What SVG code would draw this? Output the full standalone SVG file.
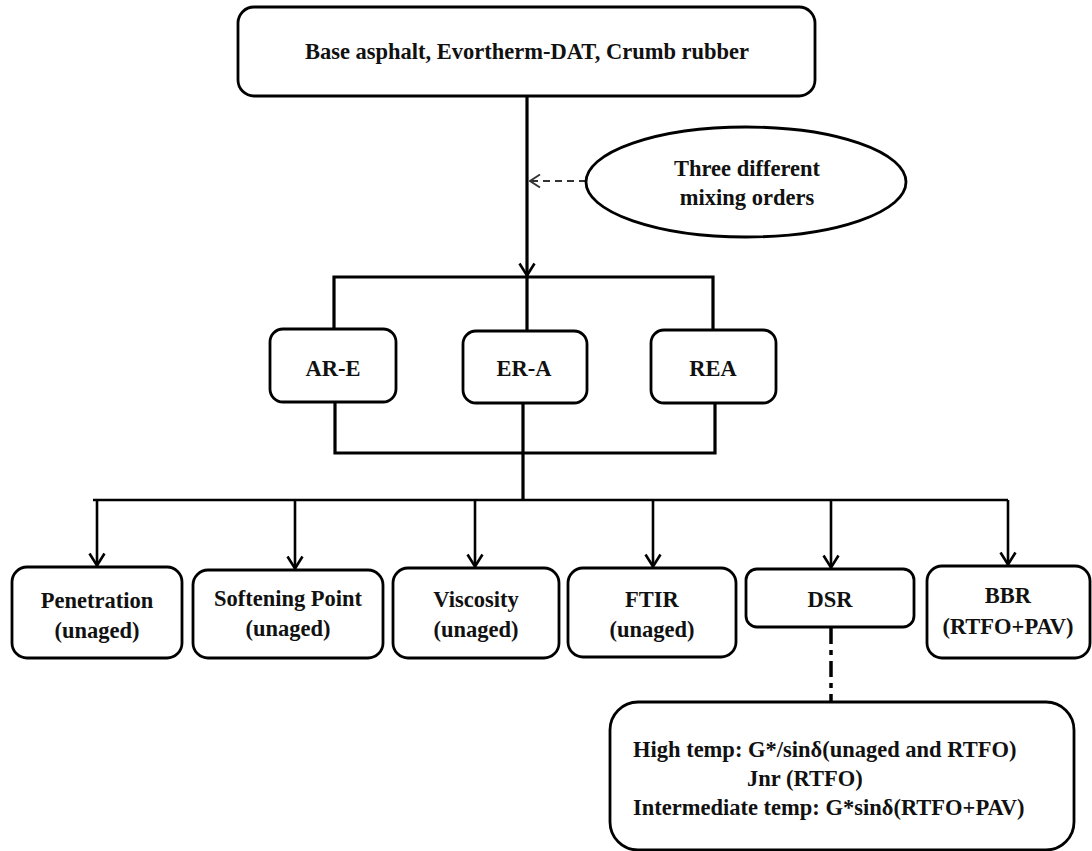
<svg xmlns="http://www.w3.org/2000/svg" width="1092" height="851" viewBox="0 0 1092 851">
<style>
.box{fill:#fff;stroke:#000;stroke-width:2.8}
.t{font-family:"Liberation Serif","Times New Roman",serif;font-weight:bold;font-size:22.5px;fill:#111;text-anchor:middle}
.tl{font-family:"Liberation Serif","Times New Roman",serif;font-weight:bold;font-size:22.5px;fill:#111}
.ln{fill:none;stroke:#000;stroke-width:3.2}
.ln2{fill:none;stroke:#000;stroke-width:2.6}
</style>
<defs>
<marker id="arr" viewBox="0 0 15 18" refX="14" refY="9" markerWidth="15" markerHeight="18" markerUnits="userSpaceOnUse" orient="auto">
<path d="M1.5,1.5 L13.5,9 L1.5,16.5" fill="none" stroke="#000" stroke-width="2.6"/>
</marker>
<marker id="arrd" viewBox="0 0 12 16" refX="11" refY="8" markerWidth="12" markerHeight="16" markerUnits="userSpaceOnUse" orient="auto">
<path d="M1,1.5 L11,8 L1,14.5" fill="none" stroke="#333" stroke-width="1.8"/>
</marker>
</defs>
<rect width="1092" height="851" fill="#fff"/>
<g id="connectors">
<path class="ln" d="M527,96 V276" marker-end="url(#arr)"/>
<path d="M586,181 H530" fill="none" stroke="#333" stroke-width="2" stroke-dasharray="7,5" marker-end="url(#arrd)"/>
<path class="ln" d="M334,329 V277 H713 V330 M527,277 V331"/>
<path class="ln" d="M335,402 V453 H715 V403 M523,403 V500"/>
<path class="ln2" d="M93,500 H1008"/>
<path class="ln2" d="M97,500 V566" marker-end="url(#arr)"/>
<path class="ln2" d="M295,500 V569" marker-end="url(#arr)"/>
<path class="ln2" d="M475,500 V567" marker-end="url(#arr)"/>
<path class="ln2" d="M653,500 V567" marker-end="url(#arr)"/>
<path class="ln2" d="M831,500 V568" marker-end="url(#arr)"/>
<path class="ln2" d="M1008,500 V565" marker-end="url(#arr)"/>
<path d="M831,628 V702" fill="none" stroke="#000" stroke-width="3.5" stroke-dasharray="16,6,5,6"/>
</g>
<g id="top">
<rect class="box" x="238" y="7" width="577" height="89" rx="16"/>
<text class="t" x="527" y="59">Base asphalt, Evortherm-DAT, Crumb rubber</text>
</g>
<g id="mixing">
<ellipse cx="746" cy="182" rx="160" ry="55" fill="#fff" stroke="#000" stroke-width="2.8"/>
<text class="t" x="747" y="176">Three different</text>
<text class="t" x="747" y="205">mixing orders</text>
</g>
<g id="are">
<rect class="box" x="270" y="329" width="126" height="73" rx="13"/>
<text class="t" x="333" y="376">AR-E</text>
</g>
<g id="era">
<rect class="box" x="463" y="331" width="124" height="72" rx="13"/>
<text class="t" x="524" y="376">ER-A</text>
</g>
<g id="rea">
<rect class="box" x="651" y="330" width="125" height="73" rx="13"/>
<text class="t" x="713" y="376">REA</text>
</g>
<g id="penetration">
<rect class="box" x="12" y="567" width="170" height="91" rx="15"/>
<text class="t" x="97" y="608">Penetration</text>
<text class="t" x="97" y="638">(unaged)</text>
</g>
<g id="softening">
<rect class="box" x="193" y="570" width="190" height="88" rx="15"/>
<text class="t" x="288" y="606">Softening Point</text>
<text class="t" x="288" y="636">(unaged)</text>
</g>
<g id="viscosity">
<rect class="box" x="393" y="568" width="166" height="90" rx="15"/>
<text class="t" x="476" y="607">Viscosity</text>
<text class="t" x="476" y="637">(unaged)</text>
</g>
<g id="ftir">
<rect class="box" x="568" y="568" width="168" height="89" rx="15"/>
<text class="t" x="652" y="607">FTIR</text>
<text class="t" x="652" y="637">(unaged)</text>
</g>
<g id="dsr">
<rect class="box" x="746" y="569" width="168" height="58" rx="11"/>
<text class="t" x="830" y="607">DSR</text>
</g>
<g id="bbr">
<rect class="box" x="927" y="566" width="163" height="92" rx="15"/>
<text class="t" x="1008" y="603">BBR</text>
<text class="t" x="1008" y="634">(RTFO+PAV)</text>
</g>
<g id="dsr-detail">
<rect class="box" x="610" y="702" width="464" height="148" rx="28"/>
<text class="tl" x="633" y="757">High temp: G*/sinδ(unaged and RTFO)</text>
<text class="tl" x="747" y="786">Jnr (RTFO)</text>
<text class="tl" x="633" y="815">Intermediate temp: G*sinδ(RTFO+PAV)</text>
</g>
</svg>
